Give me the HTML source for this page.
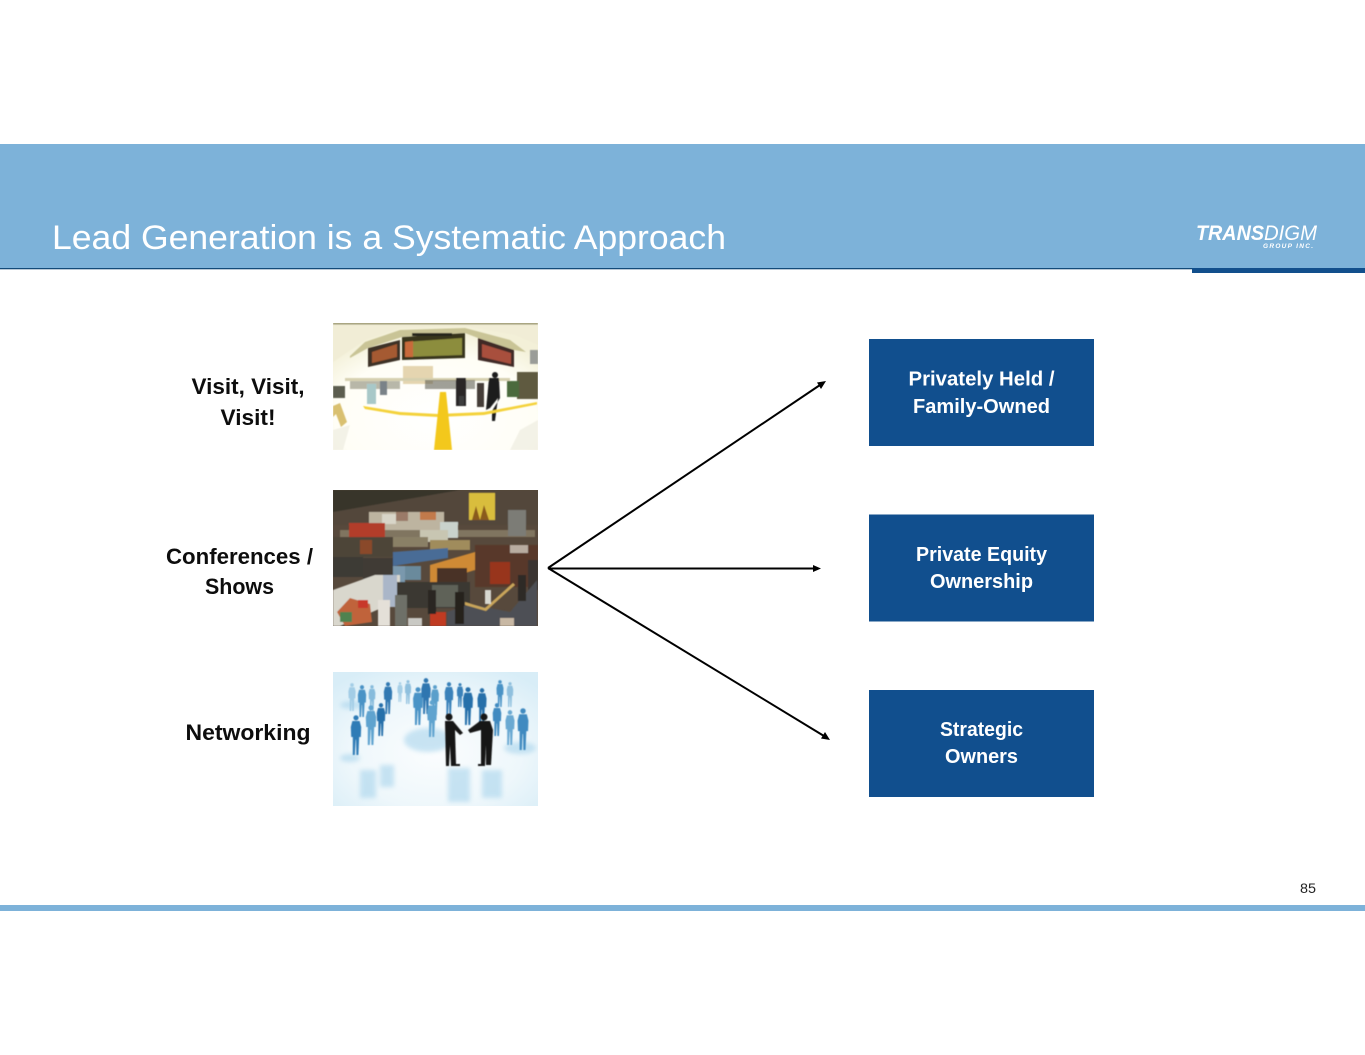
<!DOCTYPE html>
<html><head><meta charset="utf-8"><style>
html,body{margin:0;padding:0;background:#fff;width:1365px;height:1055px;overflow:hidden}
svg{display:block}
text{font-family:"Liberation Sans",sans-serif}
.l{font-weight:bold;font-size:22px;fill:#0d0d0d;text-anchor:middle}
.b{font-weight:bold;font-size:20px;fill:#fff;text-anchor:middle}
</style></head><body>
<svg width="1365" height="1055" viewBox="0 0 1365 1055" xmlns="http://www.w3.org/2000/svg">
<defs>
<filter id="b0" x="-10%" y="-10%" width="120%" height="120%"><feGaussianBlur stdDeviation=".6"/></filter>
<filter id="b1" x="-10%" y="-10%" width="120%" height="120%"><feGaussianBlur stdDeviation="1"/></filter>
<filter id="b2" x="-20%" y="-20%" width="140%" height="140%"><feGaussianBlur stdDeviation="2.5"/></filter>
<clipPath id="c1"><rect x="333" y="323" width="205" height="127"/></clipPath>
<clipPath id="c2"><rect x="333" y="490" width="205" height="136"/></clipPath>
<clipPath id="c3"><rect x="333" y="672" width="205" height="134"/></clipPath>
<radialGradient id="g3" cx=".5" cy=".6" r=".7"><stop offset="0" stop-color="#fbfdfe"/><stop offset=".6" stop-color="#eef7fb"/><stop offset="1" stop-color="#d8edf7"/></radialGradient>
<radialGradient id="g1" cx=".5" cy=".75" r=".7"><stop offset="0" stop-color="#ffffff"/><stop offset=".7" stop-color="#fffef6"/><stop offset="1" stop-color="#f3f0d8"/></radialGradient>
<g id="p"><circle cx="0" cy="7" r="6.500"/><path d="M-9 15H9L13 30 12 55H8L6 100H1L0 62-1 62-3 100H-8L-8 55H-12L-13 30Z"/></g>
</defs>

<!-- header -->
<rect x="0" y="144" width="1365" height="124" fill="#7db2d9"/>
<rect x="0" y="268" width="1365" height="1.3" fill="#134a78"/>
<rect x="1192" y="268" width="173" height="5" fill="#124f8c"/>
<text x="52" y="249" font-size="34" fill="#fff" textLength="674" lengthAdjust="spacingAndGlyphs">Lead Generation is a Systematic Approach</text>
<text x="1196" y="240" font-size="21" font-weight="bold" font-style="italic" fill="#fff" textLength="68" lengthAdjust="spacingAndGlyphs">TRANS</text>
<text x="1264" y="240" font-size="21" font-style="italic" fill="#fff" textLength="53" lengthAdjust="spacingAndGlyphs">DIGM</text>
<text x="1263" y="248" font-size="6.500" font-weight="bold" font-style="italic" fill="#fff" textLength="50" lengthAdjust="spacing">GROUP INC.</text>

<!-- labels -->
<text class="l" x="248" y="394" textLength="113" lengthAdjust="spacingAndGlyphs">Visit, Visit,</text>
<text class="l" x="248" y="425" textLength="55" lengthAdjust="spacingAndGlyphs">Visit!</text>
<text class="l" x="239.500" y="564" textLength="147" lengthAdjust="spacingAndGlyphs">Conferences /</text>
<text class="l" x="239.500" y="594" textLength="69" lengthAdjust="spacingAndGlyphs">Shows</text>
<text class="l" x="248" y="740" textLength="125" lengthAdjust="spacingAndGlyphs">Networking</text>

<!-- image 1 -->
<g clip-path="url(#c1)">
<rect x="333" y="323" width="205" height="127" fill="url(#g1)"/>
<g filter="url(#b0)">
<path d="M333 323H538V345L515 335 465 326 400 328 365 340 333 362Z" fill="#f1edd6"/>
<path d="M350 356 365 342 400 330 465 328 510 340 526 352 514 350 478 338 465 333 402 337 368 348 350 358Z" fill="#c9c496"/>
<rect x="333" y="323" width="205" height="1.500" fill="#8f8b62"/>
<path d="M368 348 400 340V360L368 367Z" fill="#3c3226"/>
<path d="M372 352 397 344V357L372 363Z" fill="#a55a30"/>
<path d="M402 337 465 333V358L402 360Z" fill="#38341f"/>
<path d="M405 342 462 338V355L405 357Z" fill="#8c8d3e"/>
<path d="M405 342 413 341V357H405Z" fill="#c86a3a"/>
<rect x="412" y="333" width="40" height="3" fill="#27251c"/>
<path d="M478 338 514 350V367L478 360Z" fill="#3f2926"/>
<path d="M482 344 511 353V364L482 357Z" fill="#a84f3e"/>
<rect x="530" y="350" width="8" height="14" fill="#9a9c98"/>
<rect x="403" y="366" width="30" height="18" fill="#e5d5b0"/>
<rect x="345" y="378" width="165" height="3" fill="#d6d0b0"/>
<rect x="350" y="381" width="50" height="8" fill="#7d7d68" opacity=".55"/>
<rect x="425" y="380" width="50" height="9" fill="#5f5f55" opacity=".6"/>
<rect x="367" y="384" width="9" height="20" fill="#a8c8c8"/>
<rect x="380" y="381" width="7" height="14" fill="#7a8288"/>
<path d="M333 386H345V398H333Z" fill="#5c5d50"/>
<path d="M517 372H538V399H517Z" fill="#5e5a40"/>
<rect x="507" y="381" width="12" height="16" fill="#4c6a3c"/>
<rect x="456" y="378" width="10" height="28" fill="#2a2726"/>
<rect x="459" y="396" width="5" height="9" fill="#3c3c3c"/>
<rect x="477" y="383" width="7" height="24" fill="#453e38"/>
<circle cx="495" cy="375" r="3" fill="#1e1c1e"/>
<path d="M489 378H499L500 398 492 411 492 421 495 421 498 398 490 408 486 410Z" fill="#1e1c1e"/>
<path d="M333 406 340 403 347 422 341 427 336 414 333 417Z" fill="#d9c070"/>
<path d="M363 406 400 412 438 414 484 412 537 402 537 404.500 484 415 438 417 400 415 365 409Z" fill="#f4d23a"/>
<path d="M440 392H446L452 450H434Z" fill="#f3c81c"/>
<path d="M333 430 350 425 343 450H333ZM520 430 538 420V450H510Z" fill="#f0efe4" opacity=".8"/>
</g>
</g>

<!-- image 2 -->
<g clip-path="url(#c2)">
<rect x="333" y="490" width="205" height="136" fill="#57493c"/>
<g filter="url(#b0)">
<path d="M333 490H538V525H333Z" fill="#52463a"/>
<path d="M333 490H460L333 512Z" fill="#37362a"/>
<rect x="369" y="512" width="75" height="20" fill="#bdb4a0"/>
<rect x="382" y="514" width="14" height="10" fill="#d8d5c8"/>
<rect x="396" y="512" width="12" height="9" fill="#9a7a68"/>
<rect x="420" y="512" width="16" height="8" fill="#c27a4c"/>
<rect x="340" y="530" width="195" height="7" fill="#807460"/>
<rect x="469" y="493" width="26" height="27" fill="#d9bd3c"/>
<path d="M472 520 476 506 480 520 484 505 489 520Z" fill="#8a5a1c"/>
<rect x="508" y="510" width="18" height="26" fill="#7c7b76"/>
<rect x="349" y="523" width="36" height="15" fill="#b23e2c"/>
<rect x="440" y="522" width="18" height="16" fill="#c9d2cc"/>
<rect x="420" y="530" width="28" height="12" fill="#c8c6b2"/>
<rect x="333" y="537" width="60" height="20" fill="#4d4438"/>
<rect x="360" y="540" width="12" height="14" fill="#8a4a2c"/>
<rect x="393" y="537" width="35" height="10" fill="#8a8066"/>
<rect x="430" y="540" width="40" height="10" fill="#a08c5c"/>
<rect x="333" y="557" width="30" height="20" fill="#3e3a34"/>
<rect x="363" y="558" width="35" height="25" fill="#3f3a34"/>
<path d="M393 552 448 548V558L393 566Z" fill="#4a6c96"/>
<rect x="393" y="566" width="12" height="20" fill="#7a98ad"/>
<rect x="405" y="566" width="16" height="14" fill="#6b8a9c"/>
<path d="M430 565 475 552V570L430 584Z" fill="#cf8a34"/>
<rect x="475" y="545" width="63" height="42" fill="#59392a"/>
<rect x="490" y="562" width="20" height="22" fill="#98351f"/>
<rect x="510" y="545" width="18" height="8" fill="#b8aca0"/>
<rect x="528" y="560" width="10" height="30" fill="#3a3530"/>
<path d="M333 590 375 575H400V600L340 626H333Z" fill="#d9d7cd"/>
<rect x="383" y="575" width="14" height="32" fill="#aab6c8"/>
<path d="M397 582H470V608H397Z" fill="#3b3832"/>
<rect x="437" y="568" width="30" height="14" fill="#4a3028"/>
<path d="M447 612 470 604 510 612 537 580V626H447Z" fill="#4d5054"/>
<path d="M465 602 485 608 513 583 515 585 486 611 465 605Z" fill="#c9a55a"/>
<rect x="432" y="585" width="26" height="22" fill="#5f6258"/>
<rect x="485" y="590" width="6" height="14" fill="#d8d8d0"/>
<path d="M337 612 350 598 370 604 372 622 345 626Z" fill="#c0643a"/>
<rect x="340" y="612" width="12" height="10" fill="#4f8250"/>
<rect x="358" y="600" width="10" height="8" fill="#c8392c"/>
<rect x="430" y="612" width="16" height="14" fill="#c03a24"/>
<rect x="378" y="600" width="12" height="26" fill="#e4e0d8"/>
<rect x="395" y="595" width="12" height="31" fill="#6e7068"/>
<rect x="428" y="590" width="8" height="24" fill="#2a2824"/>
<rect x="455" y="592" width="9" height="32" fill="#26241f"/>
<rect x="408" y="618" width="14" height="8" fill="#c9c9c4"/>
<rect x="500" y="618" width="14" height="8" fill="#c8b8a4"/>
<rect x="518" y="575" width="8" height="26" fill="#2f2c28"/>
</g>
</g>

<!-- image 3 -->
<g clip-path="url(#c3)">
<rect x="333" y="672" width="205" height="134" fill="url(#g3)"/>
<g filter="url(#b2)" opacity=".6" fill="#a8d4ec">
<rect x="360" y="770" width="16" height="28"/>
<rect x="380" y="765" width="14" height="22"/>
<rect x="448" y="768" width="22" height="34"/>
<rect x="482" y="770" width="20" height="28"/>
<ellipse cx="428" cy="740" rx="24" ry="12"/>
<ellipse cx="520" cy="748" rx="16" ry="6"/>
<ellipse cx="352" cy="705" rx="12" ry="4"/>
<ellipse cx="350" cy="758" rx="10" ry="4"/>
</g>
<g filter="url(#b0)">
<use href="#p" transform="translate(352,683) scale(.28,.28)" fill="#a3cde6"/>
<use href="#p" transform="translate(362,685) scale(.32,.32)" fill="#4a93c6"/>
<use href="#p" transform="translate(372,685) scale(.26,.26)" fill="#86bbdc"/>
<use href="#p" transform="translate(388,682) scale(.32,.32)" fill="#3379b2"/>
<use href="#p" transform="translate(400,682) scale(.2,.2)" fill="#a6cfe6"/>
<use href="#p" transform="translate(408,680) scale(.24,.24)" fill="#8fc0de"/>
<use href="#p" transform="translate(418,687) scale(.38,.38)" fill="#4a93c6"/>
<use href="#p" transform="translate(426,678) scale(.36,.36)" fill="#2e76b0"/>
<use href="#p" transform="translate(435,685) scale(.3,.3)" fill="#5a9fcb"/>
<use href="#p" transform="translate(432,700) scale(.37,.37)" fill="#5fa3cf"/>
<use href="#p" transform="translate(449,682) scale(.33,.33)" fill="#3a82ba"/>
<use href="#p" transform="translate(460,683) scale(.24,.24)" fill="#3a82ba"/>
<use href="#p" transform="translate(468,687) scale(.38,.38)" fill="#2670aa"/>
<use href="#p" transform="translate(482,688) scale(.35,.35)" fill="#2670aa"/>
<use href="#p" transform="translate(497,703) scale(.33,.33)" fill="#3f8ac0"/>
<use href="#p" transform="translate(500,680) scale(.27,.27)" fill="#4a93c6"/>
<use href="#p" transform="translate(510,682) scale(.25,.25)" fill="#8fc0de"/>
<use href="#p" transform="translate(510,710) scale(.35,.35)" fill="#6aa9d2"/>
<use href="#p" transform="translate(523,708) scale(.42,.42)" fill="#3f8ac0"/>
<use href="#p" transform="translate(356,715) scale(.4,.4)" fill="#2f7bb6"/>
<use href="#p" transform="translate(371,705) scale(.4,.4)" fill="#5fa3cf"/>
<use href="#p" transform="translate(381,703) scale(.33,.33)" fill="#2670aa"/>
</g>
<g fill="#141414" filter="url(#b0)">
<circle cx="449" cy="717" r="3.500"/>
<path d="M445 721H453L463 733 460 735 455 730 456 764H460V766H451L450 745 449 766H446Z"/>
<circle cx="484" cy="717" r="3.500"/>
<path d="M480 721H490L493 730 491 765H486V745L485 766H478V764H481V730L470 733 468 730Z"/>
</g>
</g>

<!-- arrows -->
<g stroke="#000" stroke-width="2" fill="none">
<line x1="548" y1="568" x2="820" y2="385"/>
<line x1="548" y1="568.500" x2="814" y2="568.500"/>
<line x1="548" y1="568" x2="824" y2="736"/>
</g>
<polygon points="826,381 817,382.500 821,389" fill="#000"/>
<polygon points="821,568.500 813,565 813,572" fill="#000"/>
<polygon points="830,740 821,738.500 825,732" fill="#000"/>

<!-- boxes -->
<rect x="869" y="339" width="225" height="107" fill="#114f8e"/>
<rect x="869" y="514.500" width="225" height="107" fill="#114f8e"/>
<rect x="869" y="690" width="225" height="107" fill="#114f8e"/>
<text class="b" x="981.500" y="385.500" textLength="146" lengthAdjust="spacingAndGlyphs">Privately Held /</text>
<text class="b" x="981.500" y="413" textLength="137" lengthAdjust="spacingAndGlyphs">Family-Owned</text>
<text class="b" x="981.500" y="561" textLength="131" lengthAdjust="spacingAndGlyphs">Private Equity</text>
<text class="b" x="981.500" y="588" textLength="103" lengthAdjust="spacingAndGlyphs">Ownership</text>
<text class="b" x="981.500" y="736" textLength="83" lengthAdjust="spacingAndGlyphs">Strategic</text>
<text class="b" x="981.500" y="763" textLength="73" lengthAdjust="spacingAndGlyphs">Owners</text>

<!-- footer -->
<rect x="0" y="905" width="1365" height="6" fill="#7db2d9"/>
<text x="1300" y="893" font-size="14" fill="#222" textLength="16" lengthAdjust="spacingAndGlyphs">85</text>
</svg>
</body></html>
